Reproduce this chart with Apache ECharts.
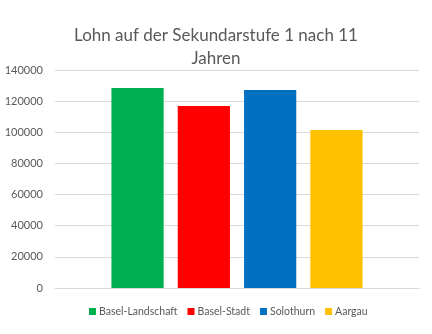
<!DOCTYPE html>
<html><head><meta charset="utf-8">
<script src="https://cdn.jsdelivr.net/npm/echarts@6/dist/echarts.min.js"></script>
<style>html,body{margin:0;padding:0;background:#fff}#c{width:432px;height:334px}</style>
</head><body><div id="c"></div>
<script>
const seriesNames = ["Basel-Landschaft", "Basel-Stadt", "Solothurn", "Aargau"];
const seriesValues = [128400, 116900, 127200, 101500];
const seriesColors = ["#00B050", "#FF0000", "#0070C0", "#FFC000"];
const category = [""];
const titleText = "Lohn auf der Sekundarstufe 1 nach 11\nJahren";
const yTicks = { min: 0, max: 140000, interval: 20000 };

const font = "Lato, 'Noto Sans', sans-serif";
const chart = echarts.init(document.getElementById('c'), null, { renderer: 'canvas' });
chart.setOption({
  animation: false,
  title: {
    text: titleText, left: 'center', top: 19,
    textStyle: { fontFamily: font, fontSize: 17, fontWeight: 'normal', color: '#595959', lineHeight: 23 }
  },
  legend: {
    bottom: 12, left: 84, itemWidth: 7, itemHeight: 7, itemGap: 10,
    icon: 'rect',
    textStyle: { fontFamily: font, fontSize: 10.5, color: '#595959', padding: [0, 0, 0, -2] },
    data: seriesNames
  },
  grid: { left: 55, right: 13, top: 70, bottom: 46, containLabel: false },
  xAxis: {
    type: 'category', data: category,
    axisLine: { show: true, lineStyle: { color: '#d9d9d9' } },
    axisTick: { show: false }, axisLabel: { show: false }
  },
  yAxis: {
    type: 'value', min: yTicks.min, max: yTicks.max, interval: yTicks.interval,
    axisLine: { show: false }, axisTick: { show: false },
    axisLabel: { fontFamily: font, fontSize: 11, color: '#595959', margin: 12, formatter: v => String(v) },
    splitLine: { lineStyle: { color: '#d9d9d9', width: 1 } }
  },
  series: seriesNames.map((n, i) => ({
    name: n, type: 'bar', data: [seriesValues[i]],
    itemStyle: { color: seriesColors[i] },
    barGap: '27%', barCategoryGap: '31%'
  }))
});
</script></body></html>
